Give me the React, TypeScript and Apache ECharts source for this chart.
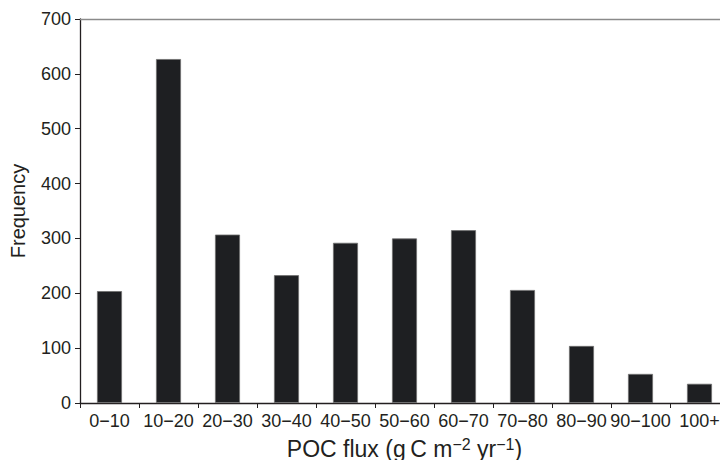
import React, { useEffect, useRef } from "react";
import * as echarts from "echarts";

const categories = ["0\u221210", "10\u221220", "20\u221230", "30\u221240", "40\u221250", "50\u221260", "60\u221270", "70\u221280", "80\u221290", "90\u2212100", "100+"];
const frequency = [204, 627, 307, 233, 292, 300, 315, 206, 104, 53, 35];
const yTicks = { min: 0, max: 700, interval: 100 };

const TEXT = "#231f20";
const FONT = "Liberation Sans, Arial, Helvetica, sans-serif";

export default function App() {
  const ref = useRef<HTMLDivElement>(null);
  useEffect(() => {
    if (!ref.current) return;
    const chart = echarts.init(ref.current, null, { renderer: "svg" });
    chart.setOption({
      animation: false,
      backgroundColor: "#ffffff",
      textStyle: { fontFamily: FONT, color: TEXT },
      grid: { left: 80, right: -9, top: 19, bottom: 57, containLabel: false, outerBoundsMode: "none" },
      xAxis: [
        {
          type: "category",
          data: categories,
          position: "bottom",
          axisLine: { lineStyle: { color: TEXT, width: 1.3 } },
          axisTick: { show: true, alignWithLabel: false, length: 5, lineStyle: { color: TEXT, width: 1 } },
          axisLabel: { color: TEXT, fontSize: 18, fontFamily: FONT, margin: 9, interval: 0 },
          name: "POC flux (g\u2009C m{sup|\u22122} yr{sup|\u22121})",
          nameLocation: "middle",
          nameGap: 33,
          nameTextStyle: {
            color: TEXT,
            fontSize: 23,
            fontFamily: FONT,
            rich: {
              sup: { fontSize: 16, fontFamily: FONT, color: TEXT, verticalAlign: "top", padding: [0, 0, 9, 0] },
            },
          },
        },
        {
          type: "category",
          data: categories,
          position: "top",
          axisLine: { lineStyle: { color: "#8a8a8a", width: 1.3 } },
          axisTick: { show: false },
          axisLabel: { show: false },
        },
      ],
      yAxis: {
        type: "value",
        min: yTicks.min,
        max: yTicks.max,
        interval: yTicks.interval,
        splitLine: { show: false },
        axisLine: { show: true, lineStyle: { color: TEXT, width: 1.3 } },
        axisTick: { show: true, length: 5, lineStyle: { color: TEXT, width: 1 } },
        axisLabel: { color: TEXT, fontSize: 18, fontFamily: FONT, margin: 9 },
        name: "Frequency",
        nameLocation: "middle",
        nameGap: 52,
        nameTextStyle: { color: TEXT, fontSize: 20, fontFamily: FONT },
      },
      series: [
        {
          type: "bar",
          data: frequency,
          xAxisIndex: 0,
          barWidth: 25,
          itemStyle: { color: "#1e1f22", borderColor: "#6e6e6e", borderWidth: 0.8 },
        },
      ],
    });
    return () => chart.dispose();
  }, []);
  return <div ref={ref} style={{ position: "fixed", left: 0, top: 0, width: 720, height: 460 }} />;
}
